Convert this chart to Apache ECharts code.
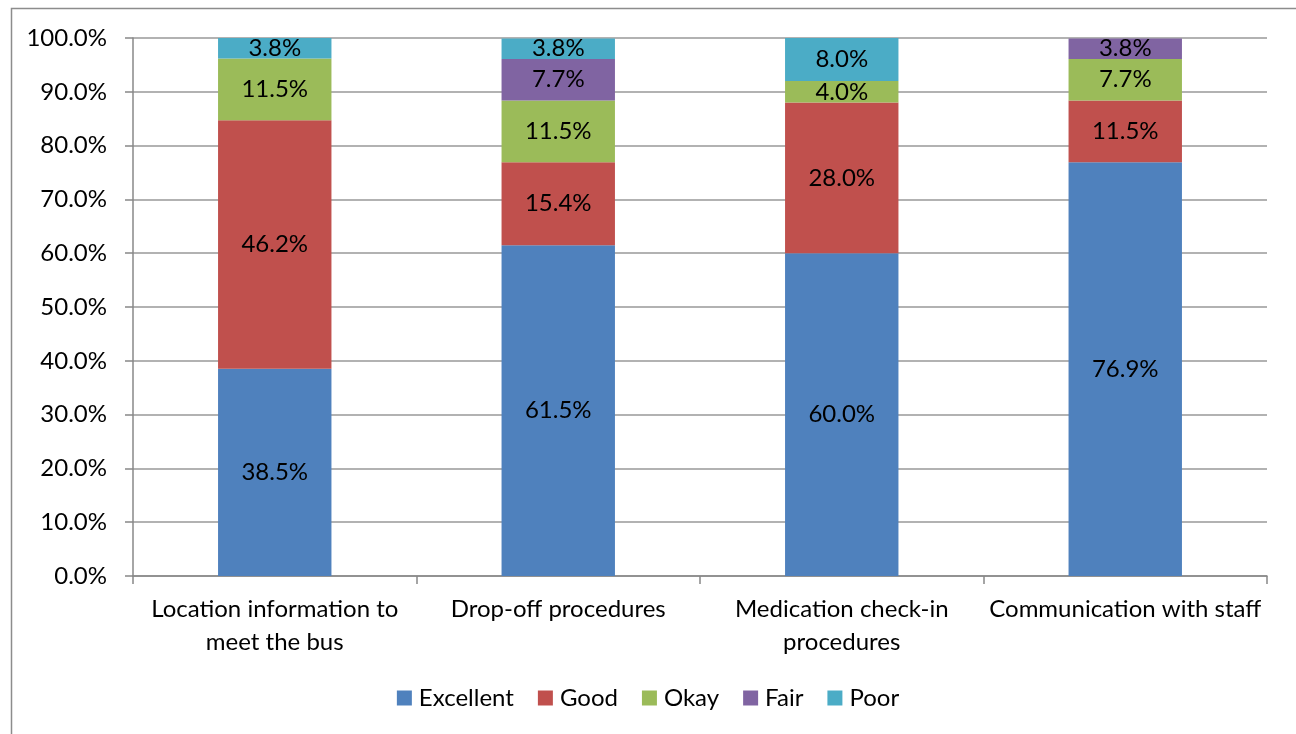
<!DOCTYPE html>
<html>
<head>
<meta charset="utf-8">
<script src="https://cdn.jsdelivr.net/npm/echarts@6/dist/echarts.min.js"></script>
<style>
  html, body { margin: 0; padding: 0; background: #fff; }
  #grafico { width: 1296px; height: 734px; }
</style>
</head>
<body>
<div id="grafico"></div>
<script>
const categorias = [
  'Location information to\nmeet the bus',
  'Drop-off procedures',
  'Medication check-in\nprocedures',
  'Communication with staff'
];
const excelente = [38.5, 61.5, 60.0, 76.9];
const bueno = [46.2, 15.4, 28.0, 11.5];
const regular = [11.5, 11.5, 4.0, 7.7];
const aceptable = [0, 7.7, 0, 3.8];
const malo = [3.8, 3.8, 8.0, 0];

const nombres = ['Excellent', 'Good', 'Okay', 'Fair', 'Poor'];
const colores = ['#4F81BD', '#C0504D', '#9BBB59', '#8064A2', '#4BACC6'];
const valores = [excelente, bueno, regular, aceptable, malo];

const fuente = 'Lato, "Open Sans", sans-serif';
const tam = 24;

const miGrafico = echarts.init(document.getElementById('grafico'));

const opciones = {
  animation: false,
  textStyle: { fontFamily: fuente },
  graphic: [{
    type: 'rect',
    shape: { x: 11.5, y: 8.5, width: 1400, height: 900 },
    style: { fill: 'none', stroke: '#8c8c8c', lineWidth: 1.5 },
    silent: true
  }],
  legend: {
    bottom: 19,
    left: 'center',
    itemWidth: 15,
    itemHeight: 15,
    itemGap: 24,
    icon: 'rect',
    textStyle: { fontSize: tam, color: '#000', fontFamily: fuente, padding: [0, 0, 0, 2] },
    data: nombres
  },
  grid: { left: 133, right: 29, top: 38, bottom: 158 },
  xAxis: {
    type: 'category',
    data: categorias,
    axisLine: { lineStyle: { color: '#888', width: 1.5 } },
    axisTick: { show: true, length: 8, alignWithLabel: false, lineStyle: { color: '#888', width: 1.5 } },
    axisLabel: { color: '#000', fontSize: tam, lineHeight: 33, margin: 17, interval: 0, fontFamily: fuente }
  },
  yAxis: {
    type: 'value',
    min: 0,
    max: 100,
    interval: 10,
    axisLine: { show: true, lineStyle: { color: '#888', width: 1.5 } },
    axisTick: { show: true, length: 8, lineStyle: { color: '#888', width: 1.5 } },
    splitLine: { lineStyle: { color: '#999', width: 1.5 } },
    axisLabel: {
      color: '#000',
      fontSize: tam,
      margin: 26,
      fontFamily: fuente,
      formatter: v => v.toFixed(1) + '%'
    }
  },
  series: nombres.map((nombre, i) => ({
    name: nombre,
    type: 'bar',
    stack: 'total',
    barWidth: '40%',
    data: valores[i],
    itemStyle: { color: colores[i] },
    label: {
      show: true,
      position: 'inside',
      color: '#000',
      fontSize: tam,
      fontFamily: fuente,
      formatter: ({ value }) => value > 0 ? value.toFixed(1) + '%' : ''
    }
  }))
};

miGrafico.setOption(opciones);
</script>
</body>
</html>
